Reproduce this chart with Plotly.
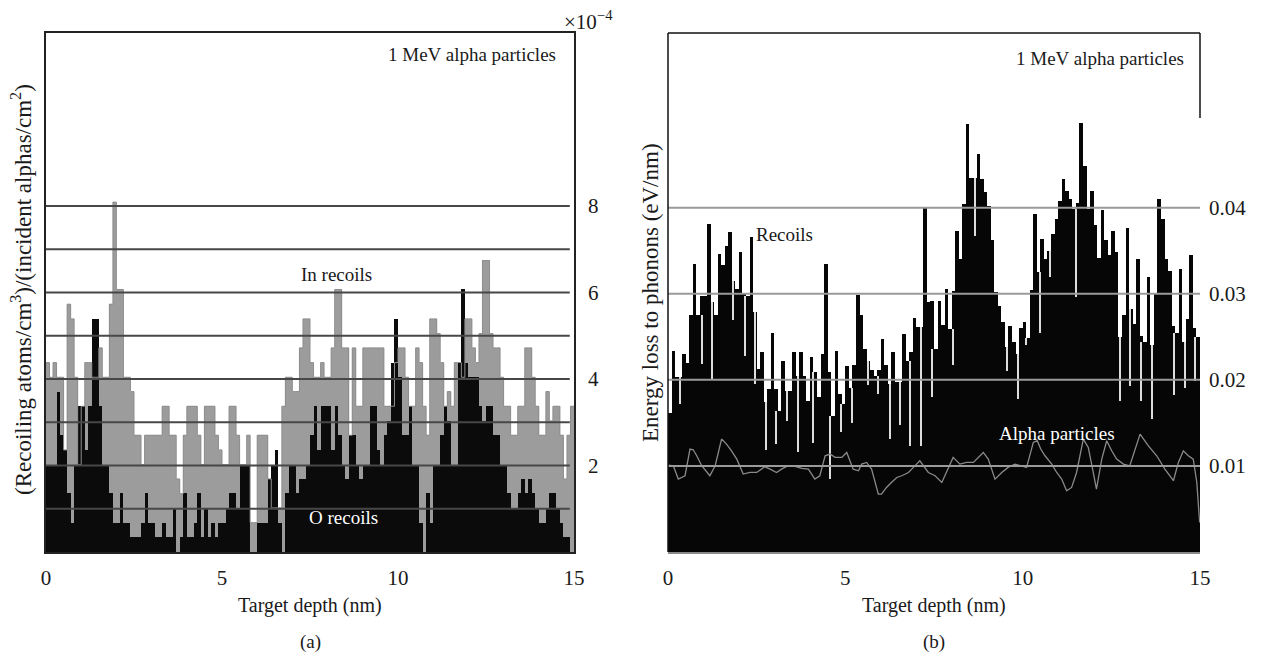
import numpy as np
import plotly.graph_objects as go

# ---------------- data ----------------
BIN_NM = 0.1
N_BINS = 150

# (a) recoil distributions, units of 1e-4 (atoms/cm3)/(alphas/cm2)
in_recoils = [
    4.38, 4.04, 4.38, 4.04, 4.04, 2.36, 5.73, 5.39, 4.04, 2.02,
    3.37, 4.38, 4.38, 4.04, 4.04, 4.72, 4.04, 4.04, 5.73, 8.09,
    6.07, 6.07, 4.04, 4.04, 3.71, 2.70, 2.70, 2.02, 2.70, 2.70,
    2.70, 2.70, 2.70, 3.37, 3.37, 2.70, 2.70, 1.69, 1.35, 2.70,
    3.37, 3.37, 3.37, 2.70, 2.02, 3.37, 3.37, 3.37, 2.70, 2.36,
    2.02, 2.02, 3.37, 3.37, 2.70, 2.02, 2.02, 2.70, 0.68, 0.68,
    2.70, 2.70, 2.70, 1.69, 1.02, 1.02, 1.02, 3.37, 4.04, 4.04,
    3.71, 3.71, 4.72, 5.39, 5.39, 4.38, 4.04, 4.04, 4.38, 4.04,
    4.04, 4.72, 6.07, 6.07, 4.72, 4.72, 2.70, 4.72, 3.37, 3.37,
    4.72, 4.72, 4.72, 4.72, 4.72, 4.72, 3.37, 3.37, 3.37, 4.38,
    4.72, 4.72, 4.04, 3.37, 3.37, 4.72, 4.38, 3.37, 2.70, 5.39,
    5.39, 5.05, 4.38, 3.37, 3.71, 3.37, 4.38, 4.38, 4.04, 5.39,
    5.39, 4.72, 4.38, 5.05, 6.74, 6.74, 5.05, 4.72, 4.72, 4.04,
    3.37, 3.37, 2.70, 2.70, 3.37, 3.37, 4.72, 4.72, 4.04, 3.37,
    2.70, 2.70, 3.71, 3.03, 3.37, 3.37, 2.70, 1.69, 2.70, 3.37,
]
o_recoils = [
    2.02, 2.02, 2.02, 3.71, 2.70, 2.36, 1.37, 0.68, 2.02, 3.37,
    3.37, 2.36, 3.37, 5.39, 5.39, 3.37, 2.02, 2.02, 1.37, 0.68,
    0.68, 1.37, 0.68, 0.68, 0.35, 0.35, 0.35, 0.68, 1.37, 0.68,
    0.68, 0.35, 0.35, 0.68, 0.35, 0.35, 1.02, 0.00, 0.35, 1.37,
    0.35, 0.35, 0.68, 1.37, 0.35, 1.02, 0.35, 0.68, 0.35, 0.68,
    0.68, 1.02, 1.37, 1.37, 1.02, 2.02, 2.02, 2.02, 0.00, 0.00,
    0.68, 0.68, 0.68, 1.69, 2.02, 2.36, 0.68, 0.00, 1.37, 2.02,
    2.02, 1.37, 1.69, 1.69, 2.02, 2.70, 3.37, 2.36, 3.37, 3.37,
    3.37, 2.36, 3.37, 2.70, 2.02, 1.69, 2.70, 2.70, 2.02, 1.69,
    2.02, 2.02, 3.37, 3.37, 2.36, 2.02, 2.70, 3.03, 4.38, 5.39,
    4.04, 2.70, 2.70, 3.37, 2.02, 2.02, 0.68, 0.00, 1.37, 0.68,
    2.02, 2.02, 2.70, 3.37, 3.03, 2.02, 2.02, 4.38, 6.07, 4.38,
    4.04, 4.04, 4.04, 3.37, 3.03, 3.37, 3.37, 2.70, 2.70, 2.02,
    2.02, 1.37, 1.02, 1.02, 1.37, 1.69, 1.37, 1.69, 1.37, 1.02,
    0.68, 0.68, 1.02, 1.37, 1.37, 1.02, 0.68, 0.35, 0.35, 0.00,
]
left_grid_vals = [1, 2, 3, 4, 5, 6, 7, 8]
left_tick_vals = [2, 4, 6, 8]

# (b) energy loss to phonons, eV/nm
recoils = [
    0.0162, 0.0233, 0.0203, 0.0203, 0.0230, 0.0220, 0.0275, 0.0335, 0.0275, 0.0298,
    0.0298, 0.0381, 0.0290, 0.0275, 0.0346, 0.0333, 0.0356, 0.0372, 0.0315, 0.0305,
    0.0349, 0.0300, 0.0298, 0.0366, 0.0279, 0.0213, 0.0232, 0.0174, 0.0189, 0.0255,
    0.0189, 0.0164, 0.0222, 0.0187, 0.0187, 0.0232, 0.0205, 0.0232, 0.0205, 0.0176,
    0.0226, 0.0209, 0.0180, 0.0230, 0.0335, 0.0209, 0.0158, 0.0234, 0.0184, 0.0172,
    0.0216, 0.0190, 0.0217, 0.0299, 0.0275, 0.0236, 0.0222, 0.0211, 0.0205, 0.0211,
    0.0247, 0.0217, 0.0195, 0.0232, 0.0198, 0.0198, 0.0253, 0.0222, 0.0232, 0.0272,
    0.0261, 0.0261, 0.0400, 0.0290, 0.0292, 0.0236, 0.0292, 0.0264, 0.0306, 0.0259,
    0.0303, 0.0373, 0.0340, 0.0404, 0.0497, 0.0435, 0.0435, 0.0462, 0.0433, 0.0418,
    0.0402, 0.0362, 0.0302, 0.0286, 0.0267, 0.0238, 0.0263, 0.0244, 0.0230, 0.0260,
    0.0267, 0.0249, 0.0304, 0.0393, 0.0325, 0.0364, 0.0340, 0.0350, 0.0370, 0.0387,
    0.0408, 0.0433, 0.0420, 0.0410, 0.0399, 0.0405, 0.0498, 0.0449, 0.0399, 0.0420,
    0.0380, 0.0342, 0.0397, 0.0362, 0.0345, 0.0373, 0.0348, 0.0250, 0.0275, 0.0377,
    0.0282, 0.0265, 0.0340, 0.0251, 0.0244, 0.0319, 0.0240, 0.0300, 0.0410, 0.0387,
    0.0340, 0.0327, 0.0263, 0.0255, 0.0329, 0.0244, 0.0271, 0.0345, 0.0260, 0.0250,
]
dip_depth = [0.34, 0.95, 1.23, 1.84, 2.17, 2.45, 2.78, 3.06, 3.36, 3.67, 4.10, 4.57,
             4.87, 5.18, 5.65, 5.93, 6.26, 6.54, 6.82, 7.15, 7.46, 8.03, 8.66, 9.57,
             9.88, 10.11, 10.49, 10.77, 11.52, 12.74, 13.04, 13.35, 13.64, 14.27, 14.59, 14.86]
dip_low = [0.0172, 0.0218, 0.0200, 0.0270, 0.0228, 0.0195, 0.0118, 0.0125, 0.0152, 0.0116,
           0.0127, 0.0085, 0.0140, 0.0150, 0.0194, 0.0184, 0.0131, 0.0147, 0.0123, 0.0123,
           0.0180, 0.0217, 0.0367, 0.0210, 0.0178, 0.0240, 0.0255, 0.0319, 0.0296, 0.0176,
           0.0193, 0.0176, 0.0155, 0.0182, 0.0190, 0.0199]
alpha_depth = [0.01, 0.15, 0.29, 0.48, 0.62, 0.71, 0.81, 0.95, 1.18, 1.33, 1.51, 1.65,
               1.79, 1.94, 2.12, 2.31, 2.50, 2.73, 2.88, 3.06, 3.20, 3.39, 3.58, 3.77,
               3.96, 4.14, 4.28, 4.43, 4.57, 4.71, 4.90, 5.04, 5.22, 5.37, 5.46, 5.60,
               5.74, 5.93, 6.02, 6.16, 6.30, 6.45, 6.59, 6.78, 6.92, 7.10,
               7.34, 7.53, 7.72, 7.90, 8.04, 8.23, 8.42, 8.61, 8.89, 9.03, 9.22, 9.41,
               9.59, 9.78, 9.97, 10.11, 10.30, 10.41, 10.51, 10.63, 10.82, 10.96, 11.10,
               11.24, 11.38, 11.52, 11.71, 11.85, 11.99, 12.08, 12.23, 12.37, 12.51,
               12.65, 12.84, 13.02, 13.31, 13.54, 13.78, 14.01, 14.25, 14.39, 14.53,
               14.67, 14.81, 14.91, 14.99]
alpha_loss = [0.01010, 0.01002, 0.00847, 0.00886, 0.01196, 0.01188, 0.01118, 0.01002,
              0.00886, 0.01002, 0.01312, 0.01254, 0.01176, 0.01079, 0.00905, 0.00924,
              0.00924, 0.00990, 0.00963, 0.00924, 0.00963, 0.01002, 0.00994, 0.00971,
              0.00963, 0.00847, 0.00886, 0.01118, 0.01138, 0.01099, 0.01099, 0.01157,
              0.00963, 0.00944, 0.01021, 0.01041, 0.00963, 0.00672, 0.00672, 0.00750,
              0.00808, 0.00866, 0.00886, 0.00924, 0.00983, 0.01060,
              0.00924, 0.00886, 0.00808, 0.00963, 0.01099, 0.01021, 0.01041, 0.01041,
              0.01157, 0.01079, 0.00847, 0.00924, 0.00983, 0.01021, 0.01002, 0.00983,
              0.01273, 0.01293, 0.01196, 0.01118, 0.01021, 0.00924, 0.00847, 0.00711,
              0.00750, 0.00924, 0.01312, 0.01215, 0.00924, 0.00731, 0.01079, 0.01293,
              0.01176, 0.01079, 0.01021, 0.01002, 0.01370, 0.01235, 0.01118, 0.00963,
              0.00828, 0.01041, 0.01176, 0.01118, 0.01079, 0.00808, 0.00343]
right_grid_vals = [0.01, 0.02, 0.03, 0.04]
right_tick_text = ["0.01", "0.02", "0.03", "0.04"]
x_ticks = [0, 5, 10, 15]

# ---------------- derived ----------------
edges = np.arange(N_BINS + 1) * BIN_NM
centers = edges[:-1] + BIN_NM / 2
in_step = list(in_recoils) + [in_recoils[-1]]
rec = np.array(recoils)
dip_top = []
for d in dip_depth:
    k = int(round(d / BIN_NM))
    k = min(max(k, 1), N_BINS - 1)
    dip_top.append(min(rec[k - 1], rec[k]))
dip_h = [t - b for t, b in zip(dip_top, dip_low)]

W, H = 1262, 657
def px(x):
    return x / W
def py(y):
    return 1 - y / H

SERIF = "Liberation Serif, Times New Roman, serif"
TXT = "#1a1a1a"
FS_TICK = 21
FS_XT = 20
FS_YT = 23
FS_ANN = 19

fig = go.Figure()
fig.add_trace(go.Bar(x=centers, y=in_recoils, width=BIN_NM, xaxis="x", yaxis="y",
                     marker=dict(color="#9c9c9c", line=dict(width=0)), showlegend=False))
fig.add_trace(go.Bar(x=centers, y=o_recoils, width=BIN_NM, xaxis="x", yaxis="y",
                     marker=dict(color="#0b0b0b", line=dict(width=0)), showlegend=False))
fig.add_trace(go.Scatter(x=edges, y=in_step, mode="lines", xaxis="x", yaxis="y",
                         line=dict(color="#8e8e8e", width=1, shape="hv"), showlegend=False))

fig.add_trace(go.Bar(x=centers, y=recoils, width=BIN_NM, xaxis="x2", yaxis="y2",
                     marker=dict(color="#060606", line=dict(width=0)), showlegend=False))
fig.add_trace(go.Bar(x=dip_depth, y=dip_h, base=dip_low, width=0.035, xaxis="x2", yaxis="y2",
                     marker=dict(color="#dcdcdc", line=dict(width=0)), showlegend=False))
fig.add_trace(go.Scatter(x=alpha_depth, y=alpha_loss, mode="lines", xaxis="x2", yaxis="y2",
                         line=dict(color="#8a8a8a", width=1.3), showlegend=False))

ydom = [py(552), py(33)]
tick_font = dict(family=SERIF, size=FS_TICK, color=TXT)

fig.update_layout(
    width=W, height=H, margin=dict(l=0, r=0, t=0, b=0, pad=0, autoexpand=False),
    paper_bgcolor="white", plot_bgcolor="white",
    barmode="overlay", bargap=0,
    xaxis=dict(domain=[px(46), px(574)], range=[0, 15], tickvals=x_ticks,
               showgrid=False, zeroline=False, showline=True, linecolor="#222", linewidth=1.5,
               mirror=True, ticks="", tickfont=tick_font, ticklabelstandoff=6,
               layer="above traces", anchor="y", automargin=False),
    yaxis=dict(domain=ydom, range=[0, 12], side="right", tickvals=left_tick_vals,
               showgrid=False, zeroline=False, showline=True,
               linecolor="#222", linewidth=1.5, mirror=True, ticks="", tickfont=tick_font,
               ticklabelstandoff=8, layer="above traces", anchor="x", automargin=False),
    xaxis2=dict(domain=[px(668), px(1200)], range=[0, 15], tickvals=x_ticks,
                showgrid=False, zeroline=False, showline=True, linecolor="#8a8a8a", linewidth=2,
                ticks="", tickfont=tick_font, ticklabelstandoff=6, layer="above traces",
                anchor="y2", automargin=False),
    yaxis2=dict(domain=ydom, range=[0, 0.0603], side="right", tickvals=right_grid_vals,
                ticktext=right_tick_text, showgrid=False, zeroline=False, showline=False,
                ticks="", tickfont=tick_font, ticklabelstandoff=8, anchor="x2",
                automargin=False),
)

shapes = []
for v in left_grid_vals:
    shapes.append(dict(type="line", xref="x domain", yref="y", x0=0, x1=0.992, y0=v, y1=v,
                       line=dict(color="#474747", width=2), layer="above"))
for v in right_grid_vals:
    shapes.append(dict(type="line", xref="x2 domain", yref="y2", x0=0, x1=1, y0=v, y1=v,
                       line=dict(color="#9a9a9a", width=2), layer="above"))
# right panel frame: left and top border, short right border at the top
shapes.append(dict(type="line", xref="x2 domain", yref="y2 domain", x0=0, x1=0, y0=0, y1=1,
                   line=dict(color="#111", width=1.5), layer="above"))
shapes.append(dict(type="line", xref="x2 domain", yref="y2 domain", x0=0, x1=1, y0=1, y1=1,
                   line=dict(color="#111", width=1.5), layer="above"))
shapes.append(dict(type="line", xref="x2 domain", yref="y2 domain", x0=1, x1=1, y0=0.836, y1=1,
                   line=dict(color="#111", width=1.5), layer="above"))
fig.update_layout(shapes=shapes)

ann = []
def A(text, x, y, color=TXT, size=FS_ANN, xanchor="center", angle=0):
    ann.append(dict(text=text, x=x, y=y, xref="paper", yref="paper", showarrow=False,
                    xanchor=xanchor, yanchor="middle", textangle=angle,
                    font=dict(family=SERIF, size=size, color=color)))

A("1 MeV alpha particles", px(558), py(54), xanchor="right")
A("1 MeV alpha particles", px(1186), py(58), xanchor="right")
A("×10<sup>−4</sup>", px(588), py(20), size=FS_TICK)
A("In recoils", px(336), py(274))
A("O recoils", px(343), py(517), color="white")
A("Recoils", px(784), py(235))
A("Alpha particles", px(1057), py(433), color="white")
A("Target depth (nm)", px(310), py(605), size=FS_XT)
A("Target depth (nm)", px(934), py(605), size=FS_XT)
A("(a)", px(310), py(642), size=FS_ANN)
A("(b)", px(934), py(642), size=FS_ANN)
A("(Recoiling atoms/cm<sup>3</sup>)/(incident alphas/cm<sup>2</sup>)", px(21), py(290),
  size=FS_YT, angle=-90)
A("Energy loss to phonons (eV/nm)", px(650), py(293), size=FS_YT, angle=-90)
fig.update_layout(annotations=ann)

fig.write_html(
    "out.html",
    config={"displayModeBar": False},
    post_script="document.body.style.margin='0';document.body.style.overflow='hidden';",
)
